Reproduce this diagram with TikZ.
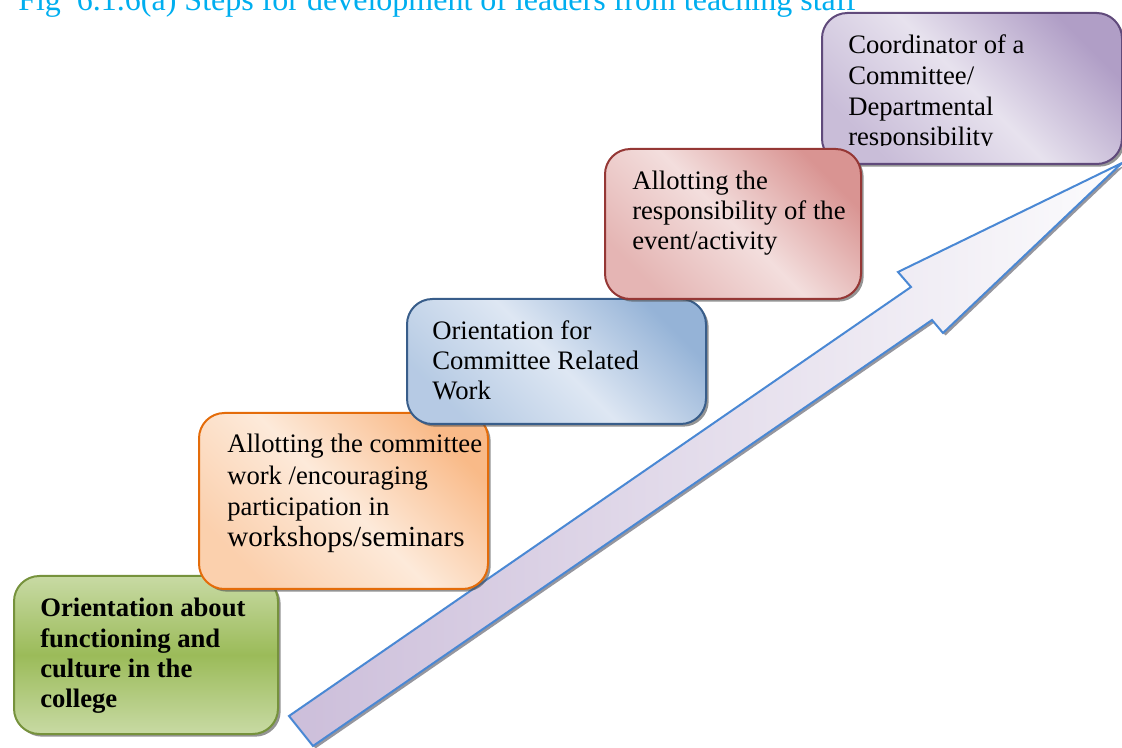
\documentclass[tikz,border=0pt]{standalone}
\usepackage{fontspec}
\setmainfont{Liberation Serif}
\usetikzlibrary{shadows}
\definecolor{titlecyan}{RGB}{0,174,239}
\definecolor{grnB}{RGB}{118,146,60}\definecolor{grnD}{RGB}{155,187,89}\definecolor{grnL}{RGB}{200,218,164}
\definecolor{orgB}{RGB}{228,108,10}\definecolor{orgD}{RGB}{249,186,136}\definecolor{orgL}{RGB}{253,234,218}
\definecolor{bluB}{RGB}{56,93,138}\definecolor{bluD}{RGB}{149,179,215}\definecolor{bluL}{RGB}{222,231,243}
\definecolor{redB}{RGB}{149,55,53}\definecolor{redD}{RGB}{217,148,146}\definecolor{redL}{RGB}{243,222,221}
\definecolor{purB}{RGB}{96,74,123}\definecolor{purD}{RGB}{176,158,198}\definecolor{purL}{RGB}{231,226,238}
\definecolor{arrB}{RGB}{74,136,212}\definecolor{arrD}{RGB}{204,190,218}\definecolor{arrL}{RGB}{252,252,253}
\definecolor{shadowgray}{RGB}{150,150,158}
\tikzset{
  stepbox/.style={rectangle, rounded corners=19pt, line width=1.5pt, inner sep=0pt, anchor=north west,
    drop shadow={shadow xshift=2pt, shadow yshift=-2pt, fill=black!70, opacity=0.6}},
  diagshade/.style 2 args={top color=#1, bottom color=#1!55!#2, middle color=#2, shading angle=-45},
  steptext/.style={anchor=base west, inner sep=0pt, font=\fontsize{20}{22.5}\selectfont},
}
\begin{document}
\begin{tikzpicture}[x=0.75pt,y=-0.75pt]
\useasboundingbox (0,0) rectangle (1122,748);
\clip (0,0) rectangle (1122,748);

% title (top clipped by the page)
\node[anchor=base west, inner sep=0pt, text=titlecyan, font=\fontsize{24}{28}\selectfont] (title) at (18,11)
  {Fig\ \ 6.1.6(a) Steps for development of leaders from teaching staff};

% big arrow
\fill[shadowgray, shift={(2.5,2.5)}] (289,716) -- (911,287) -- (898,272) -- (1122,163) -- (943,333) -- (932,320) -- (313,746) -- cycle;
\draw[arrB, line width=1.5pt, line join=miter, left color=arrD, right color=arrL]
  (289,716) -- (911,287) -- (898,272) -- (1122,163) -- (943,333) -- (932,320) -- (313,746) -- cycle;

% purple box
\node[stepbox, draw=purB, diagshade={purD}{purL}, minimum width={300*0.75pt}, minimum height={151*0.75pt}] (purple) at (821,12) {};
\begin{scope}
\clip (821,12) rectangle (1122,146);
\node[steptext, font=\fontsize{20}{23}\selectfont] (purpletext) at (848,54) {\begin{tabular}[t]{@{}l@{}}Coordinator of a\\ Committee/\\ Departmental\\ responsibility\end{tabular}};
\end{scope}

% green box
\node[stepbox, draw=grnB, top color=grnL, bottom color=grnL, middle color=grnD, minimum width={264*0.75pt}, minimum height={158*0.75pt}] (green) at (13,575) {};
\node[steptext, font=\fontsize{20}{22.7}\selectfont\bfseries] (greentext) at (40,617) {\begin{tabular}[t]{@{}l@{}}Orientation about\\ functioning and\\ culture in the\\ college\end{tabular}};

% orange box
\node[stepbox, draw=orgB, diagshade={orgD}{orgL}, minimum width={289*0.75pt}, minimum height={176*0.75pt}] (orange) at (198,412) {};
\node[steptext, font=\fontsize{20}{23.4}\selectfont] (orangetext) at (227,453) {\begin{tabular}[t]{@{}l@{}}Allotting the committee\\ work /encouraging\\ participation in\\ {\fontsize{21.8}{23.4}\selectfont workshops/seminars}\end{tabular}};

% blue box
\node[stepbox, draw=bluB, diagshade={bluD}{bluL}, minimum width={299*0.75pt}, minimum height={125*0.75pt}] (blue) at (406,298) {};
\node[steptext] (bluetext) at (432,340) {\begin{tabular}[t]{@{}l@{}}Orientation for\\ Committee Related\\ Work\end{tabular}};

% red box
\node[stepbox, draw=redB, diagshade={redD}{redL}, minimum width={256*0.75pt}, minimum height={150*0.75pt}] (red) at (604,148) {};
\node[steptext] (redtext) at (632,190) {\begin{tabular}[t]{@{}l@{}}Allotting the\\ responsibility of the\\ event/activity\end{tabular}};
\end{tikzpicture}
\end{document}
